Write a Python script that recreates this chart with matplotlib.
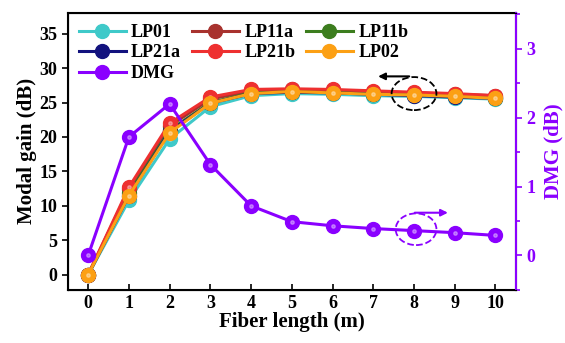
"""
plot.py
Modal gain / DMG vs fiber length
"""
import matplotlib.pyplot as plt
from matplotlib.patches import Ellipse
from matplotlib.ticker import MultipleLocator

plt.rcParams['font.family'] = ['Liberation Serif', 'DejaVu Serif']
plt.rcParams['font.weight'] = 'bold'

length = [0, 1, 2, 3, 4, 5, 6, 7, 8, 9, 10]

gain_lp01 = [0, 10.8, 19.7, 24.4, 26.0, 26.3, 26.2, 26.0, 25.9, 25.7, 25.5]
gain_lp11a = [0, 12.4, 21.6, 25.5, 26.7, 26.9, 26.8, 26.6, 26.4, 26.2, 26.0]
gain_lp11b = [0, 11.8, 21.0, 25.0, 26.4, 26.6, 26.5, 26.3, 26.1, 25.9, 25.7]
gain_lp21a = [0, 11.5, 20.8, 24.9, 26.3, 26.5, 26.4, 26.2, 26.0, 25.8, 25.6]
gain_lp21b = [0, 12.7, 22.0, 25.8, 26.9, 27.0, 26.9, 26.7, 26.5, 26.3, 26.0]
gain_lp02 = [0, 11.5, 20.6, 24.9, 26.3, 26.6, 26.4, 26.2, 26.1, 25.9, 25.6]
dmg = [0.0, 1.72, 2.2, 1.32, 0.72, 0.49, 0.43, 0.39, 0.36, 0.33, 0.29]

modes = ['LP01', 'LP11a', 'LP11b', 'LP21a', 'LP21b', 'LP02']
gains = [gain_lp01, gain_lp11a, gain_lp11b, gain_lp21a, gain_lp21b, gain_lp02]
colors = ['#3fc9c9', '#a8322e', '#3c7d1e', '#12127e', '#ee3030', '#fca014']
purple = '#8a00ff'

fig = plt.figure(figsize=(5.65, 3.43), dpi=100)
ax = fig.add_axes([0.120, 0.155, 0.793, 0.807])

handles = {}
for name, g, c in zip(modes, gains, colors):
    h, = ax.plot(length, g, '-o', color=c, lw=2.2, ms=10, mec=c, mfc=c, label=name)
    ax.plot(length, g, 'o', color='white', ms=2.5, alpha=0.35)
    handles[name] = h

ax.set_xlim(-0.5, 10.5)
ax.set_ylim(-2.2, 38)
ax.set_xticks(length)
ax.yaxis.set_major_locator(MultipleLocator(5))
ax.tick_params(axis='x', direction='in', labelsize=13, length=4, width=1.2)
ax.tick_params(axis='y', direction='out', labelsize=13, length=4, width=1.2)
ax.set_xlabel('Fiber length (m)', fontsize=15, fontweight='bold', labelpad=0)
ax.set_ylabel('Modal gain (dB)', fontsize=15, fontweight='bold', labelpad=2)
for s in ax.spines.values():
    s.set_linewidth(1.5)

ax2 = ax.twinx()
hd, = ax2.plot(length, dmg, '-o', color=purple, lw=2.2, ms=10, label='DMG')
ax2.plot(length, dmg, 'o', color='white', ms=2.5, alpha=0.35)
handles['DMG'] = hd
ax2.set_ylim(-0.5, 3.52)
ax2.yaxis.set_major_locator(MultipleLocator(1))
ax2.yaxis.set_minor_locator(MultipleLocator(0.5))
ax2.tick_params(axis='y', which='both', colors=purple, labelsize=13, width=1.2)
ax2.tick_params(axis='y', which='major', length=4)
ax2.tick_params(axis='y', which='minor', length=3)
ax2.spines['right'].set_color(purple)
ax2.spines['right'].set_linewidth(1.5)
ax2.set_ylabel('DMG (dB)', fontsize=15, fontweight='bold', color=purple, labelpad=6)

# legend filled column by column -> order so rows read LP01 LP11a LP11b / LP21a LP21b LP02 / DMG
order = ['LP01', 'LP21a', 'DMG', 'LP11a', 'LP21b', 'LP11b', 'LP02']
ax2.legend([handles[k] for k in order], order, ncol=3, loc='upper left',
           frameon=False, fontsize=13, handlelength=2.6, handletextpad=0.3,
           columnspacing=0.6, labelspacing=0.2, borderaxespad=0.2)

# annotations: dashed ellipses with arrows
ax.add_patch(Ellipse((8.0, 26.3), 1.1, 4.8, fill=False, ls='--', lw=1.3, ec='black', zorder=5))
ax.annotate('', xy=(7.05, 28.8), xytext=(7.95, 28.8),
            arrowprops=dict(arrowstyle='-|>', color='black', lw=1.5))
ax2.add_patch(Ellipse((8.05, 0.38), 1.0, 0.46, fill=False, ls='--', lw=1.3, ec=purple, zorder=5))
ax2.annotate('', xy=(8.9, 0.62), xytext=(7.95, 0.62),
             arrowprops=dict(arrowstyle='-|>', color=purple, lw=1.5))

plt.savefig('out.png', dpi=100)
plt.close()
